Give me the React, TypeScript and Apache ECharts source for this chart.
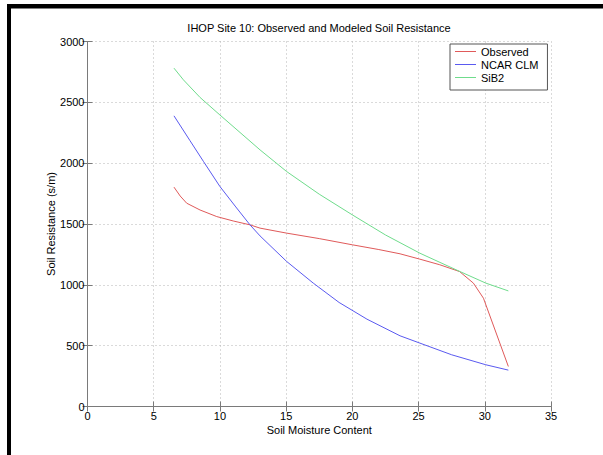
import React, { useEffect, useRef } from "react";
import * as echarts from "echarts";

const TITLE = "IHOP Site 10: Observed and Modeled Soil Resistance";
const X_NAME = "Soil Moisture Content";
const Y_NAME = "Soil Resistance (s/m)";

const obsX = [6.53, 7.0, 7.49, 8.5, 9.76, 11.0, 12.27, 13.03, 15.04, 17.5, 20.0, 22.0, 23.6, 25.1, 26.6, 28.1, 29.14, 29.9, 31.78];
const obsY = [1803, 1730, 1671, 1615, 1561, 1525, 1493, 1466, 1425, 1380, 1329, 1290, 1255, 1211, 1165, 1109, 1014, 890, 329];

const clmX = [6.53, 7.74, 8.75, 10.0, 11.2, 12.27, 13.03, 15.04, 17.05, 19.0, 21.1, 23.6, 25.1, 27.5, 30.08, 31.78];
const clmY = [2389, 2185, 2015, 1808, 1640, 1493, 1402, 1192, 1014, 855, 718, 581, 521, 425, 343, 299];

const sibX = [6.53, 7.24, 8.5, 10.0, 13.03, 15.04, 17.5, 20.0, 22.5, 25.1, 28.13, 30.08, 31.78];
const sibY = [2781, 2685, 2540, 2396, 2109, 1931, 1745, 1575, 1410, 1260, 1109, 1014, 950];

const SERIES_NAMES = ["Observed", "NCAR CLM", "SiB2"];
const SERIES_COLORS = ["#e05a5a", "#5a5af0", "#6fdc8c"];

const X_MIN = 0, X_MAX = 35, X_STEP = 5;
const Y_MIN = 0, Y_MAX = 3000, Y_STEP = 500;

const FONT = "'Liberation Sans', Arial, Helvetica, sans-serif";

function pairs(xs: number[], ys: number[]) {
  return xs.map((x, i) => [x, ys[i]]);
}

export default function App() {
  const ref = useRef<HTMLDivElement>(null);
  useEffect(() => {
    if (!ref.current) return;
    const chart = echarts.init(ref.current, undefined, { renderer: "svg" });
    const axisColor = "#7a7a7a";
    const gridLine = { show: true, lineStyle: { color: "#b4b4b4", type: [1, 3] as any, width: 1 } };
    const label = { color: "#000", fontFamily: FONT, fontSize: 11, formatter: (v: number) => String(v) };
    const datas = [pairs(obsX, obsY), pairs(clmX, clmY), pairs(sibX, sibY)];
    chart.setOption({
      animation: false,
      backgroundColor: "#fff",
      textStyle: { fontFamily: FONT },
      title: {
        text: TITLE,
        left: 319,
        textAlign: "center",
        top: 22,
        padding: 0,
        textStyle: { fontSize: 11, fontWeight: "normal", color: "#000", fontFamily: FONT },
      },
      grid: { left: 87.5, top: 41.5, width: 463.5, height: 365, containLabel: false },
      legend: {
        orient: "vertical",
        left: 450,
        top: 44,
        padding: [2, 9, 7, 5],
        itemGap: 2,
        itemWidth: 21,
        itemHeight: 10,
        icon: "path://M0,0 L21,0 L21,1 L0,1 Z",
        borderColor: "#555",
        borderWidth: 1,
        borderRadius: 0,
        backgroundColor: "#fff",
        textStyle: { color: "#000", fontSize: 11, fontFamily: FONT },
        data: SERIES_NAMES,
      },
      xAxis: [
        {
          type: "value", min: X_MIN, max: X_MAX, interval: X_STEP,
          name: X_NAME, nameLocation: "middle", nameGap: 18, nameMoveOverlap: false,
          nameTextStyle: { color: "#000", fontSize: 11, fontFamily: FONT },
          axisLine: { show: true, lineStyle: { color: axisColor } },
          axisTick: { show: true, inside: true, length: 5, lineStyle: { color: axisColor } },
          axisLabel: { ...label, margin: 4 },
          splitLine: gridLine,
        },
        {
          type: "value", position: "top", min: X_MIN, max: X_MAX, interval: X_STEP,
          axisLine: { show: true, lineStyle: { color: axisColor } },
          axisTick: { show: true, inside: true, length: 5, lineStyle: { color: axisColor } },
          axisLabel: { show: false },
          splitLine: { show: false },
        },
      ],
      yAxis: [
        {
          type: "value", min: Y_MIN, max: Y_MAX, interval: Y_STEP,
          name: Y_NAME, nameLocation: "middle", nameGap: 31, nameRotate: 90, nameMoveOverlap: false,
          nameTextStyle: { color: "#000", fontSize: 11, fontFamily: FONT },
          axisLine: { show: true, lineStyle: { color: axisColor } },
          axisTick: { show: true, inside: true, length: 5, lineStyle: { color: axisColor } },
          axisLabel: { ...label, margin: 3 },
          splitLine: gridLine,
        },
        {
          type: "value", position: "right", min: Y_MIN, max: Y_MAX, interval: Y_STEP,
          axisLine: { show: true, lineStyle: { color: axisColor } },
          axisTick: { show: true, inside: true, length: 5, lineStyle: { color: axisColor } },
          axisLabel: { show: false },
          splitLine: { show: false },
        },
      ],
      series: SERIES_NAMES.map((name, i) => ({
        name,
        type: "line",
        data: datas[i],
        xAxisIndex: 0,
        yAxisIndex: 0,
        symbol: "none",
        color: SERIES_COLORS[i],
        lineStyle: { width: 1, color: SERIES_COLORS[i] },
      })),
      graphic: [
        { type: "rect", shape: { x: 7, y: 4, width: 596, height: 4.5 }, style: { fill: "#000" }, silent: true },
        { type: "rect", shape: { x: 7, y: 4, width: 4, height: 451 }, style: { fill: "#000" }, silent: true },
      ],
    });
    return () => chart.dispose();
  }, []);
  return <div ref={ref} style={{ position: "absolute", left: 0, top: 0, width: 603, height: 455 }} />;
}
